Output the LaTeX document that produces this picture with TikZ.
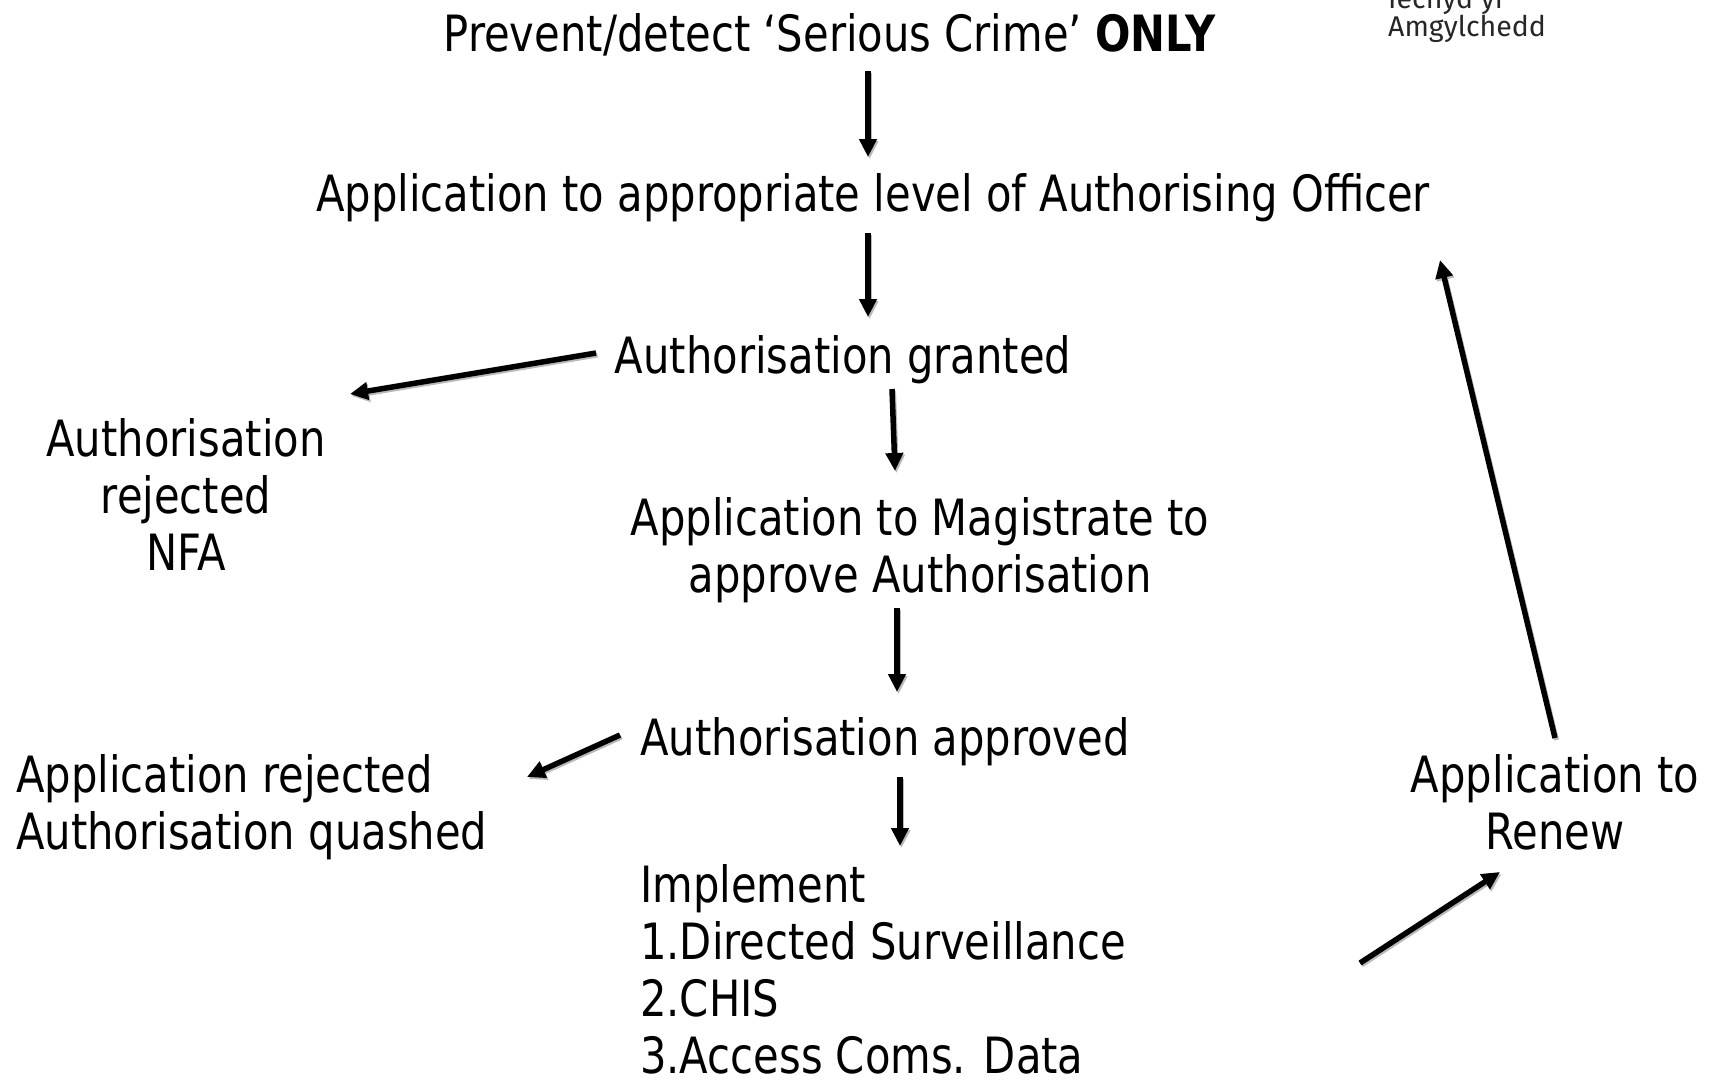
\documentclass[tikz,border=0pt]{standalone}
\usepackage{fontspec}
\setmainfont{DejaVu Sans}[FakeStretch=0.834]
\newfontfamily\logofont{Fira Sans}
\usetikzlibrary{arrows.meta}
\tikzset{
  lbl/.style={inner sep=0pt, font=\fontsize{50}{57}\selectfont, text=black},
  conn/.style={line width=5.5pt, -{Triangle[length=18pt,width=17pt]},
    preaction={draw=gray!55, line width=5pt, transform canvas={shift={(1.5pt,-2pt)}}}},
}
\begin{document}
\begin{tikzpicture}[x=1pt,y=-1pt]
\useasboundingbox (0,0) rectangle (1716,1080);
\clip (0,0) rectangle (1716,1080);
\fill[white] (0,0) rectangle (1716,1080);
% logo text
\node[inner sep=0pt, anchor=base west, font=\logofont\fontsize{28.5}{30}\selectfont, text=black!85] (logo1) at (1388,8) {Iechyd yr};
\node[inner sep=0pt, anchor=base west, font=\logofont\fontsize{28.5}{30}\selectfont, text=black!85] (logo2) at (1388,36) {Amgylchedd};
% texts (base anchor = baseline of the last line)
\node[lbl, anchor=base] (t1) at (830,51) {Prevent/detect ‘Serious Crime’ \textbf{ONLY}};
\node[lbl, anchor=base] (t2) at (873,211) {Application to appropriate level of Authorising Officer};
\node[lbl, anchor=base] (t3) at (843,373) {Authorisation granted};
\node[lbl, anchor=base, align=center] (t4) at (186,570) {Authorisation\\rejected\\NFA};
\node[lbl, anchor=base, align=center] (t5) at (920,592) {Application to Magistrate to\\approve Authorisation};
\node[lbl, anchor=base] (t6) at (885,755) {Authorisation approved};
\node[lbl, anchor=base west, align=left] (t7) at (16,849) {Application rejected\\Authorisation quashed};
\node[lbl, anchor=base, align=center] (t8) at (1555,849) {Application to\\Renew};
\node[lbl, anchor=base west, align=left] (t9) at (640,1073) {Implement\\1.Directed Surveillance\\2.CHIS\\3.Access Coms. Data};
% connector end points
\coordinate (a1s) at (868,71);   \coordinate (a1e) at (868,157);
\coordinate (a2s) at (868,233);  \coordinate (a2e) at (868,317);
\coordinate (a3s) at (596,353);  \coordinate (a3e) at (350,394);
\coordinate (a4s) at (892,389);  \coordinate (a4e) at (895,471);
\coordinate (a5s) at (897,608);  \coordinate (a5e) at (897,692);
\coordinate (a6s) at (620,735);  \coordinate (a6e) at (527,777);
\coordinate (a7s) at (900,777);  \coordinate (a7e) at (900,846);
\coordinate (a8s) at (1360,963); \coordinate (a8e) at (1500,872);
\coordinate (a9s) at (1555,738); \coordinate (a9e) at (1440,260);
\draw[conn] (a1s) -- (a1e);
\draw[conn] (a2s) -- (a2e);
\draw[conn] (a3s) -- (a3e);
\draw[conn] (a4s) -- (a4e);
\draw[conn] (a5s) -- (a5e);
\draw[conn] (a6s) -- (a6e);
\draw[conn] (a7s) -- (a7e);
\draw[conn] (a8s) -- (a8e);
\draw[conn] (a9s) -- (a9e);
\end{tikzpicture}
\end{document}
